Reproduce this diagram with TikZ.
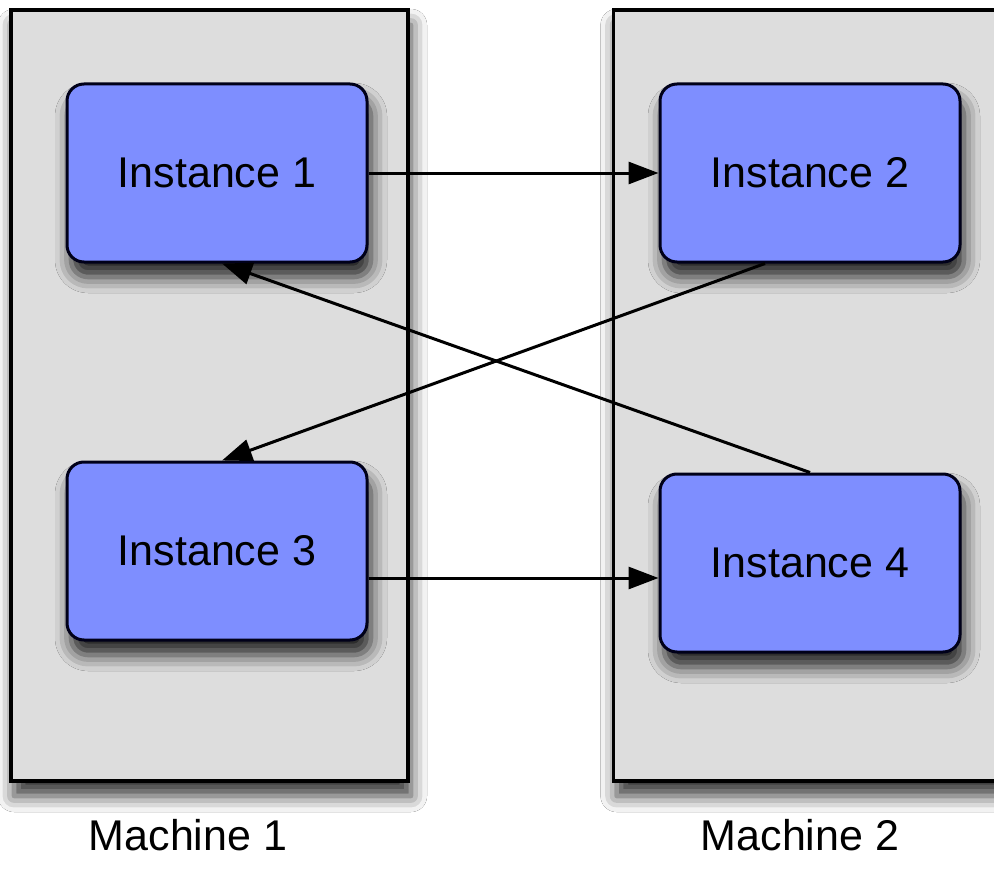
\documentclass[tikz,border=0pt]{standalone}
\usepackage{fontspec}
\setmainfont{Liberation Sans}
\usetikzlibrary{arrows.meta,calc,shadows.blur}
\definecolor{machfill}{RGB}{221,221,221}
\definecolor{instfill}{RGB}{126,142,255}
\tikzset{
  machine/.style={draw=black, line width=3.2pt, fill=machfill,
    blur shadow={shadow xshift=3pt, shadow yshift=-15pt, shadow blur radius=16pt, shadow opacity=80}},
  instance/.style={draw=black!90!blue, line width=3pt, fill=instfill, rounded corners=17pt,
    minimum width=300pt, minimum height=178pt, inner sep=0pt,
    font=\fontsize{43pt}{50pt}\selectfont,
    blur shadow={shadow xshift=4pt, shadow yshift=-15pt, shadow blur radius=16pt, shadow opacity=85}},
  conn/.style={line width=3pt, -{Triangle[length=30pt,width=22pt]}},
  mlabel/.style={font=\fontsize{43pt}{50pt}\selectfont}
}
\begin{document}
\begin{tikzpicture}[x=1pt,y=-1pt]
\clip (0,0) rectangle (994,883);
\fill[white] (0,0) rectangle (994,883);
\node[machine, minimum width=397pt, minimum height=771pt, inner sep=0pt] (m1) at (209.5,395.5) {};
\node[machine, minimum width=420pt, minimum height=771pt, inner sep=0pt, anchor=west] (m2) at (612,395.5) {};
\node[instance] (i1) at (217,173) {Instance 1};
\node[instance] (i2) at (810,173) {Instance 2};
\node[instance] (i3) at (217,551) {Instance 3};
\node[instance] (i4) at (810,563) {Instance 4};
\coordinate (i2out) at ($(i2.south)+(-45,0)$);
\coordinate (i3in) at ($(i3.north)+(5,0)$);
\coordinate (i1in) at ($(i1.south)+(5,0)$);
\draw[conn] (i1.east) -- (i1.east -| i2.west);
\draw[conn] (i3.east |- 0,578) -- (i4.west |- 0,578);
\draw[conn] (i2out) -- (i3in);
\draw[conn] (i4.north) -- (i1in);
\node[mlabel] (l1) at (188,835) {Machine 1};
\node[mlabel] (l2) at (800,835) {Machine 2};
\end{tikzpicture}
\end{document}
